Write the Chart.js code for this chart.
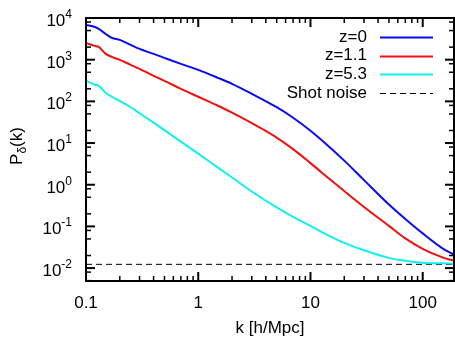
<!DOCTYPE html>
<html>
<head>
<meta charset="utf-8">
<script src="https://cdn.jsdelivr.net/npm/chart.js@4.4.0/dist/chart.umd.min.js"></script>
<style>
  html, body { margin: 0; padding: 0; background: #fff; }
</style>
</head>
<body>
<canvas id="powerChart" width="455" height="339"></canvas>
<script>
// P(k) for three redshifts, read on a log grid in k
const kValues = [0.1, 0.12, 0.13, 0.15, 0.17, 0.2, 0.25, 0.3, 0.4, 0.5, 0.7, 1, 1.5, 2, 3, 5, 7, 10, 15, 20, 30, 50, 70, 100, 150, 190];
const powerZ0 = [6810, 6100, 5460, 4140, 3325, 2980, 2260, 1810, 1377, 1105, 794, 570, 367, 264, 152, 72.3, 40.5, 19.8, 7.76, 3.79, 1.29, 0.336, 0.151, 0.0680, 0.0298, 0.0208];
const powerZ11 = [2520, 2140, 2025, 1377, 1167, 989, 751, 602, 410, 311, 200, 129, 78.5, 53.4, 29.9, 13.5, 7.15, 3.30, 1.33, 0.706, 0.293, 0.103, 0.0516, 0.0290, 0.0181, 0.0150];
const powerZ53 = [311, 250, 236, 161, 129, 103, 72.3, 51.9, 30.8, 20.4, 10.8, 5.57, 2.58, 1.49, 0.687, 0.285, 0.169, 0.103, 0.0577, 0.0403, 0.0267, 0.0176, 0.0150, 0.0135, 0.0130, 0.0127];
const shotNoise = 0.0123;

const seriesLabels = ['z=0', 'z=1.1', 'z=5.3', 'Shot noise'];
const xTickValues = [0.1, 1, 10, 100];
const xTickLabels = ['0.1', '1', '10', '100'];
const yTickExponents = [-2, -1, 0, 1, 2, 3, 4];

const FONT = '"Liberation Sans", Arial, sans-serif';

function toPoints(ys) {
    return kValues.map((k, i) => ({ x: k, y: ys[i] }));
}

// frame, inward ticks, labels and legend in the old gnuplot look
const gnuplotFrame = {
    id: 'gnuplotFrame',
    afterDraw(chart) {
        const ctx = chart.ctx;
        const area = chart.chartArea;
        const xs = chart.scales.x;
        const ys = chart.scales.y;
        ctx.save();
        ctx.strokeStyle = '#000';
        ctx.fillStyle = '#000';

        // ticks
        const tick = (x1, y1, x2, y2, w) => {
            ctx.lineWidth = w;
            ctx.beginPath();
            ctx.moveTo(x1, y1);
            ctx.lineTo(x2, y2);
            ctx.stroke();
        };
        for (let d = -1; d <= 2; d++) {
            for (let m = 1; m <= 9; m++) {
                const v = m * Math.pow(10, d);
                if (v < xs.min || v > xs.max) continue;
                const px = xs.getPixelForValue(v);
                const len = m === 1 ? 9 : 5;
                const w = m === 1 ? 2 : 1.5;
                tick(px, area.bottom, px, area.bottom - len, w);
                tick(px, area.top, px, area.top + len, w);
            }
        }
        for (let d = -3; d <= 4; d++) {
            [1, 2, 5, 8].forEach(m => {
                const v = m * Math.pow(10, d);
                if (v < ys.min || v > ys.max) return;
                const py = ys.getPixelForValue(v);
                const len = m === 1 ? 9 : 5;
                const w = m === 1 ? 2 : 1.5;
                tick(area.left, py, area.left + len, py, w);
                tick(area.right, py, area.right - len, py, w);
            });
        }

        // border
        ctx.lineWidth = 2;
        ctx.strokeRect(area.left, area.top, area.right - area.left, area.bottom - area.top);

        // x tick labels
        ctx.font = '17px ' + FONT;
        ctx.textAlign = 'center';
        ctx.textBaseline = 'middle';
        xTickValues.forEach((v, i) => {
            ctx.fillText(xTickLabels[i], xs.getPixelForValue(v), 303);
        });

        // y tick labels as 10 with a raised exponent
        ctx.textBaseline = 'alphabetic';
        ctx.textAlign = 'left';
        yTickExponents.forEach(e => {
            const py = ys.getPixelForValue(Math.pow(10, e));
            const exp = String(e);
            ctx.font = '12px ' + FONT;
            const ew = ctx.measureText(exp).width;
            ctx.font = '17px ' + FONT;
            const bw = ctx.measureText('10').width;
            const right = 72;
            ctx.fillText('10', right - ew - bw, py + 8);
            ctx.font = '12px ' + FONT;
            ctx.fillText(exp, right - ew, py);
        });

        // axis titles
        ctx.font = '17px ' + FONT;
        ctx.textAlign = 'center';
        ctx.textBaseline = 'middle';
        ctx.fillText('k [h/Mpc]', (area.left + area.right) / 2, 328);

        ctx.save();
        ctx.translate(22, 146);
        ctx.rotate(-Math.PI / 2);
        ctx.textAlign = 'left';
        ctx.textBaseline = 'alphabetic';
        ctx.font = '17px ' + FONT;
        const wP = ctx.measureText('P').width;
        ctx.font = '12px ' + FONT;
        const wD = ctx.measureText('\u03b4').width;
        ctx.font = '17px ' + FONT;
        const wK = ctx.measureText('(k)').width;
        const x0 = -(wP + wD + wK) / 2;
        ctx.fillText('P', x0, 0);
        ctx.font = '12px ' + FONT;
        ctx.fillText('\u03b4', x0 + wP, 4);
        ctx.font = '17px ' + FONT;
        ctx.fillText('(k)', x0 + wP + wD, 0);
        ctx.restore();

        // legend: text right-aligned, line sample to its right
        ctx.font = '17px ' + FONT;
        ctx.textAlign = 'right';
        ctx.textBaseline = 'middle';
        chart.data.datasets.forEach((ds, i) => {
            const y = 37 + i * 18.7;
            ctx.fillStyle = '#000';
            ctx.fillText(ds.label, 367, y);
            ctx.save();
            ctx.strokeStyle = ds.borderColor;
            ctx.lineWidth = ds.borderWidth;
            ctx.setLineDash(ds.borderDash || []);
            ctx.beginPath();
            ctx.moveTo(380, Math.round(y) + 0.5);
            ctx.lineTo(433, Math.round(y) + 0.5);
            ctx.stroke();
            ctx.restore();
        });
        ctx.restore();
    }
};

new Chart(document.getElementById('powerChart'), {
    type: 'line',
    data: {
        datasets: [
            { label: seriesLabels[0], data: toPoints(powerZ0), borderColor: '#0a0af0', borderWidth: 2 },
            { label: seriesLabels[1], data: toPoints(powerZ11), borderColor: '#f01010', borderWidth: 2 },
            { label: seriesLabels[2], data: toPoints(powerZ53), borderColor: '#10f0f0', borderWidth: 2 },
            {
                label: seriesLabels[3],
                data: [{ x: kValues[0], y: shotNoise }, { x: kValues[kValues.length - 1], y: shotNoise }],
                borderColor: '#000', borderWidth: 1, borderDash: [6, 4]
            }
        ]
    },
    options: {
        responsive: false,
        devicePixelRatio: 1,
        animation: false,
        cubicInterpolationMode: 'monotone',
        elements: { point: { radius: 0 } },
        layout: { padding: { left: 86, top: 18, right: 1, bottom: 58 } },
        scales: {
            x: { type: 'logarithmic', min: 0.1, max: 190, display: false },
            y: { type: 'logarithmic', min: 0.0049, max: 10000, display: false }
        },
        plugins: { legend: { display: false }, tooltip: { enabled: false } }
    },
    plugins: [gnuplotFrame]
});
</script>
</body>
</html>
